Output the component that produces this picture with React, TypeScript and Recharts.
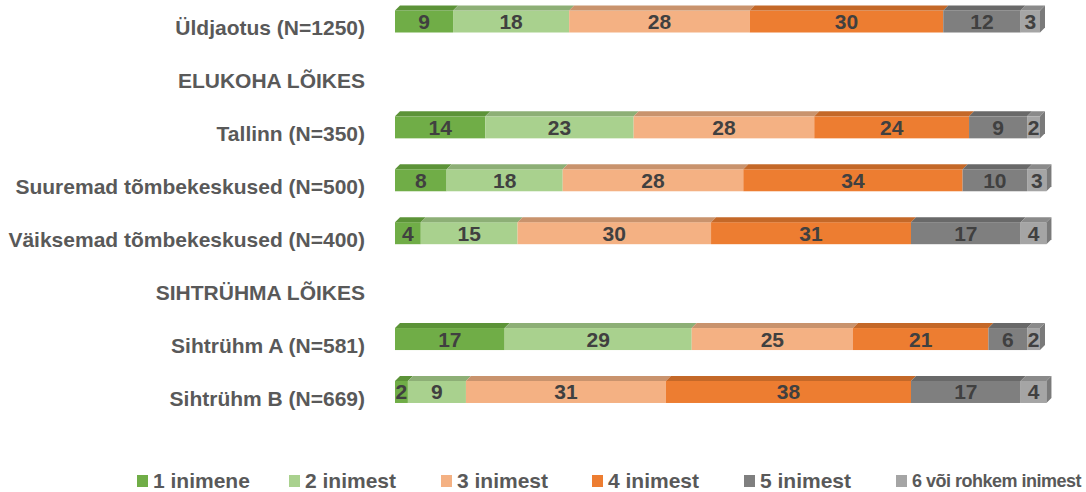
import React from "react";
import { Bar, BarChart, LabelList, XAxis, YAxis } from "recharts";

const categories = [
  "Üldjaotus (N=1250)",
  "ELUKOHA LÕIKES",
  "Tallinn (N=350)",
  "Suuremad tõmbekeskused (N=500)",
  "Väiksemad tõmbekeskused (N=400)",
  "SIHTRÜHMA LÕIKES",
  "Sihtrühm A (N=581)",
  "Sihtrühm B (N=669)",
];

const seriesNames = [
  "1 inimene",
  "2 inimest",
  "3 inimest",
  "4 inimest",
  "5 inimest",
  "6 või rohkem inimest",
];

// null = section header rows with no bar
const s1 = [9, null, 14, 8, 4, null, 17, 2];
const s2 = [18, null, 23, 18, 15, null, 29, 9];
const s3 = [28, null, 28, 28, 30, null, 25, 31];
const s4 = [30, null, 24, 34, 31, null, 21, 38];
const s5 = [12, null, 9, 10, 17, null, 6, 17];
const s6 = [3, null, 2, 3, 4, null, 2, 4];

const seriesValues = [s1, s2, s3, s4, s5, s6];

const colors = ["#70AD47", "#A9D18E", "#F4B183", "#ED7D31", "#7F7F7F", "#A5A5A5"];
const topColors = ["#5C9338", "#8DAF76", "#C9936D", "#C46828", "#696969", "#8A8A8A"];
const sideColor = "#7A7A7A";

const data = categories.map((name, i) => {
  const row: Record<string, string | number | null> = { name };
  seriesValues.forEach((vals, k) => {
    row["s" + k] = vals[i];
  });
  return row;
});

const DX = 5;
const DY = 5;
const FONT = "'Liberation Sans', Arial, sans-serif";

function makeShape(k: number) {
  return (props: any) => {
    const { x, y, width, height } = props;
    if (!width || width <= 0 || !height) return <g />;
    const last = k === seriesValues.length - 1;
    return (
      <g>
        <rect x={x} y={y} width={width} height={height} fill={colors[k]} />
        <polygon
          points={`${x},${y} ${x + width},${y} ${x + width + DX},${y - DY} ${x + DX},${y - DY}`}
          fill={topColors[k]}
        />
        {last && (
          <polygon
            points={`${x + width},${y} ${x + width + DX},${y - DY} ${x + width + DX},${y + height - DY} ${x + width},${y + height}`}
            fill={sideColor}
          />
        )}
      </g>
    );
  };
}

const CategoryTick = (props: any) => {
  const { x, y, payload } = props;
  return (
    <text
      x={x - 22}
      y={y + 6}
      textAnchor="end"
      dominantBaseline="central"
      fill="#595959"
      fontFamily={FONT}
      fontWeight="bold"
      fontSize={21}
    >
      {payload.value}
    </text>
  );
};

const legendLeft = [137, 289, 441, 592, 744, 896];

export default function App() {
  return (
    <div style={{ position: "absolute", left: 0, top: 0, width: 1086, height: 492, overflow: "hidden" }}>
      <div style={{ position: "absolute", left: 0, top: -10 }}>
        <BarChart
          width={1086}
          height={440}
          data={data}
          layout="vertical"
          margin={{ top: 5.5, right: 39.55, bottom: 11.1, left: 0 }}
        >
          <XAxis type="number" domain={[0, 101]} hide />
          <YAxis
            type="category"
            dataKey="name"
            width={395}
            axisLine={false}
            tickLine={false}
            tick={<CategoryTick />}
            interval={0}
          />
          {seriesNames.map((n, k) => (
            <Bar
              key={n}
              dataKey={"s" + k}
              name={n}
              stackId="a"
              barSize={22}
              fill={colors[k]}
              shape={makeShape(k)}
              isAnimationActive={false}
            >
              <LabelList
                dataKey={"s" + k}
                position="center"
                fill="#404040"
                fontFamily={FONT}
                fontWeight="bold"
                fontSize={21}
              />
            </Bar>
          ))}
        </BarChart>
      </div>
      {seriesNames.map((n, k) => {
        const long = k === seriesNames.length - 1;
        return (
          <div
            key={n}
            style={{
              position: "absolute",
              left: legendLeft[k],
              top: 470,
              height: 22,
              display: "flex",
              alignItems: "center",
              whiteSpace: "nowrap",
              fontFamily: FONT,
              fontWeight: "bold",
              fontSize: long ? 18 : 21,
              letterSpacing: long ? -0.5 : 0,
              color: "#595959",
            }}
          >
            <span
              style={{ display: "inline-block", width: 11, height: 12, background: colors[k], marginRight: 5 }}
            />
            {n}
          </div>
        );
      })}
    </div>
  );
}
